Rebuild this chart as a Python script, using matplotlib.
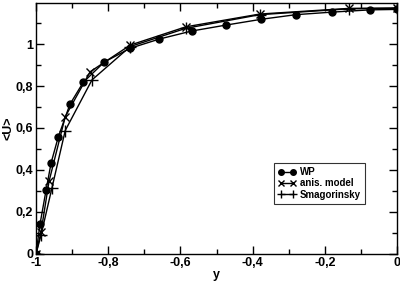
import matplotlib
matplotlib.use("Agg")
import matplotlib.pyplot as plt
from matplotlib.ticker import MultipleLocator, FuncFormatter

# WP (filled circles)
wp_y = [-1.0, -0.989, -0.972, -0.958, -0.938, -0.906, -0.869, -0.811, -0.739,
        -0.658, -0.569, -0.475, -0.376, -0.280, -0.181, -0.074, 0.0]
wp_u = [0.0, 0.141, 0.305, 0.435, 0.559, 0.713, 0.818, 0.914, 0.980,
        1.024, 1.062, 1.090, 1.118, 1.140, 1.152, 1.163, 1.165]

# anisotropic model (x markers)
an_y = [-1.0, -0.986, -0.964, -0.919, -0.850, -0.739, -0.585, -0.380, -0.132, 0.0]
an_u = [0.0, 0.106, 0.345, 0.654, 0.868, 0.995, 1.082, 1.143, 1.170, 1.172]

# Smagorinsky (+ markers)
sm_y = [-1.0, -0.986, -0.956, -0.919, -0.845, -0.739, -0.585, -0.380, -0.132, 0.0]
sm_u = [0.0, 0.090, 0.313, 0.588, 0.829, 0.988, 1.075, 1.140, 1.168, 1.170]

plt.rcParams["font.family"] = ["Liberation Sans", "DejaVu Sans"]
plt.rcParams["font.weight"] = "bold"

fig = plt.figure(figsize=(4.0, 2.84), dpi=100)
ax = fig.add_axes([0.09, 0.106, 0.9025, 0.883])

ax.plot(wp_y, wp_u, color="black", lw=1.0, marker="o", ms=5, label="WP")
ax.plot(an_y, an_u, color="black", lw=1.0, marker="x", ms=6, mew=1.0, label="anis. model")
ax.plot(sm_y, sm_u, color="black", lw=1.0, marker="+", ms=8, mew=1.0, label="Smagorinsky")

ax.set_xlim(-1, 0)
ax.set_ylim(0, 1.195)

comma = FuncFormatter(lambda v, p: ("%g" % round(v, 2)).replace(".", ","))
ax.xaxis.set_major_locator(MultipleLocator(0.2))
ax.xaxis.set_minor_locator(MultipleLocator(0.1))
ax.yaxis.set_major_locator(MultipleLocator(0.2))
ax.yaxis.set_minor_locator(MultipleLocator(0.1))
ax.xaxis.set_major_formatter(comma)
ax.yaxis.set_major_formatter(comma)
ax.tick_params(which="both", direction="in", top=True, right=True, width=1.0)
ax.tick_params(which="major", length=6, labelsize=9, pad=2)
ax.tick_params(which="minor", length=3.5)
for s in ax.spines.values():
    s.set_linewidth(1.0)

ax.set_xlabel("y", fontsize=9, fontweight="bold", labelpad=0)
ax.set_ylabel("<U>", fontsize=9, fontweight="bold", labelpad=1)

leg = ax.legend(loc="lower right", bbox_to_anchor=(0.91, 0.2), fontsize=7,
                frameon=True, fancybox=False, edgecolor="black", numpoints=2,
                handlelength=1.8, handletextpad=0.4, borderpad=0.4,
                labelspacing=0.15, borderaxespad=0, markerscale=0.8)
leg.get_frame().set_linewidth(0.8)

fig.savefig("out.png", dpi=100)
